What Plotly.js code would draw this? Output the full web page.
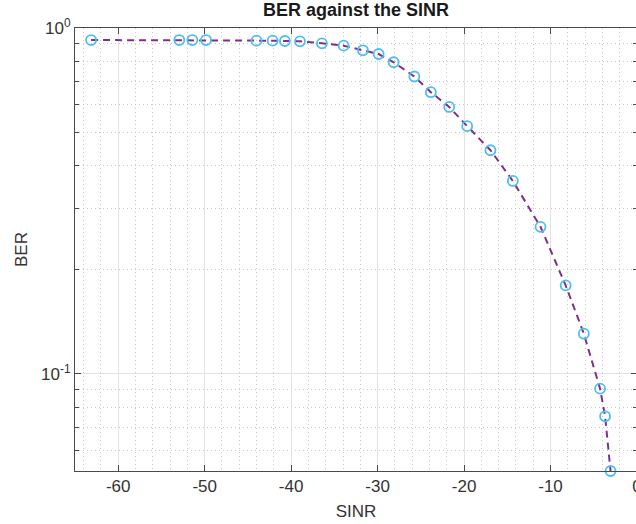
<!DOCTYPE html>
<html>
<head>
<meta charset="utf-8">
<script src="https://cdn.plot.ly/plotly-3.0.1.min.js"></script>
<style>
html,body{margin:0;padding:0;overflow:hidden;background:#fff;}
#chart{width:650px;height:524px;}
</style>
</head>
<body>
<div id="chart"></div>
<script>
// Data
const sinr = [-63.14, -52.94, -51.43, -49.85, -44.01, -42.14, -40.72, -38.98, -36.44, -33.93,
              -31.70, -29.88, -28.15, -25.75, -23.84, -21.72, -19.64, -16.95, -14.36, -11.16,
              -8.25, -6.15, -4.27, -3.69, -3.06];
const ber  = [0.923, 0.923, 0.923, 0.923, 0.919, 0.919, 0.917, 0.915, 0.903, 0.889,
              0.862, 0.841, 0.796, 0.724, 0.652, 0.591, 0.520, 0.443, 0.361, 0.266,
              0.180, 0.1305, 0.0905, 0.0753, 0.0523];

const xTickVals = [-60, -50, -40, -30, -20, -10, 0];
const xTickText = ['-60', '-50', '-40', '-30', '-20', '-10', '0'];
const xMinorVals = [-64, -62, -58, -56, -54, -52, -48, -46, -44, -42, -38, -36, -34, -32,
                    -28, -26, -24, -22, -18, -16, -14, -12, -8, -6, -4, -2];
const yTickVals = [0.1, 1];
const yTickText = ['10<sup>-1</sup>', '10<sup>0</sup>'];
const yMinorVals = [0.06, 0.07, 0.08, 0.09, 0.2, 0.3, 0.4, 0.5, 0.6, 0.7, 0.8, 0.9];

const axisColor = '#4a4a4a';
const tickFont = {family: 'Liberation Sans, Arial, sans-serif', size: 17, color: '#333333'};

const trace = {
  x: sinr,
  y: ber,
  type: 'scatter',
  mode: 'lines+markers',
  line: {color: '#7E2F8E', width: 2, dash: '7px,5px'},
  marker: {symbol: 'circle-open', size: 10, color: '#4DBEEE', line: {width: 1.8, color: '#4DBEEE'}},
  cliponaxis: false,
  showlegend: false
};

const layout = {
  width: 650,
  height: 524,
  margin: {l: 75, r: 13, t: 28, b: 53},
  paper_bgcolor: '#ffffff',
  plot_bgcolor: '#ffffff',
  title: {
    text: '<b>BER against the SINR</b>',
    font: {family: 'Liberation Sans, Arial, sans-serif', size: 18, color: '#1a1a1a'},
    x: 0.5, xref: 'paper', xanchor: 'center',
    y: 0.981, yref: 'container', yanchor: 'middle'
  },
  xaxis: {
    range: [-65, 0],
    tickmode: 'array',
    tickvals: xTickVals,
    ticktext: xTickText,
    ticks: 'inside',
    ticklen: 6,
    tickcolor: axisColor,
    tickfont: tickFont,
    showline: true,
    linecolor: axisColor,
    linewidth: 1,
    mirror: 'ticks',
    showgrid: true,
    gridcolor: '#e3e3e3',
    gridwidth: 1,
    zeroline: false,
    minor: {
      tickmode: 'array',
      tickvals: xMinorVals,
      ticks: '',
      showgrid: true,
      gridcolor: '#c8c8c8',
      griddash: '1px,3px',
      gridwidth: 1
    },
    title: {
      text: 'SINR',
      font: {family: 'Liberation Sans, Arial, sans-serif', size: 17, color: '#333333'},
      standoff: 9
    }
  },
  yaxis: {
    type: 'log',
    range: [Math.log10(0.0523), 0],
    tickmode: 'array',
    tickvals: yTickVals,
    ticktext: yTickText,
    ticks: 'inside',
    ticklen: 6,
    tickcolor: axisColor,
    tickfont: tickFont,
    showline: true,
    linecolor: axisColor,
    linewidth: 1,
    mirror: 'ticks',
    showgrid: true,
    gridcolor: '#e3e3e3',
    gridwidth: 1,
    zeroline: false,
    minor: {
      tickmode: 'array',
      tickvals: yMinorVals,
      ticks: 'inside',
      ticklen: 4,
      tickcolor: axisColor,
      showgrid: true,
      gridcolor: '#c8c8c8',
      griddash: '1px,3px',
      gridwidth: 1
    },
    title: {
      text: 'BER',
      font: {family: 'Liberation Sans, Arial, sans-serif', size: 17, color: '#333333'},
      standoff: 9
    }
  }
};

Plotly.newPlot('chart', [trace], layout, {displayModeBar: false, staticPlot: true});
</script>
</body>
</html>
